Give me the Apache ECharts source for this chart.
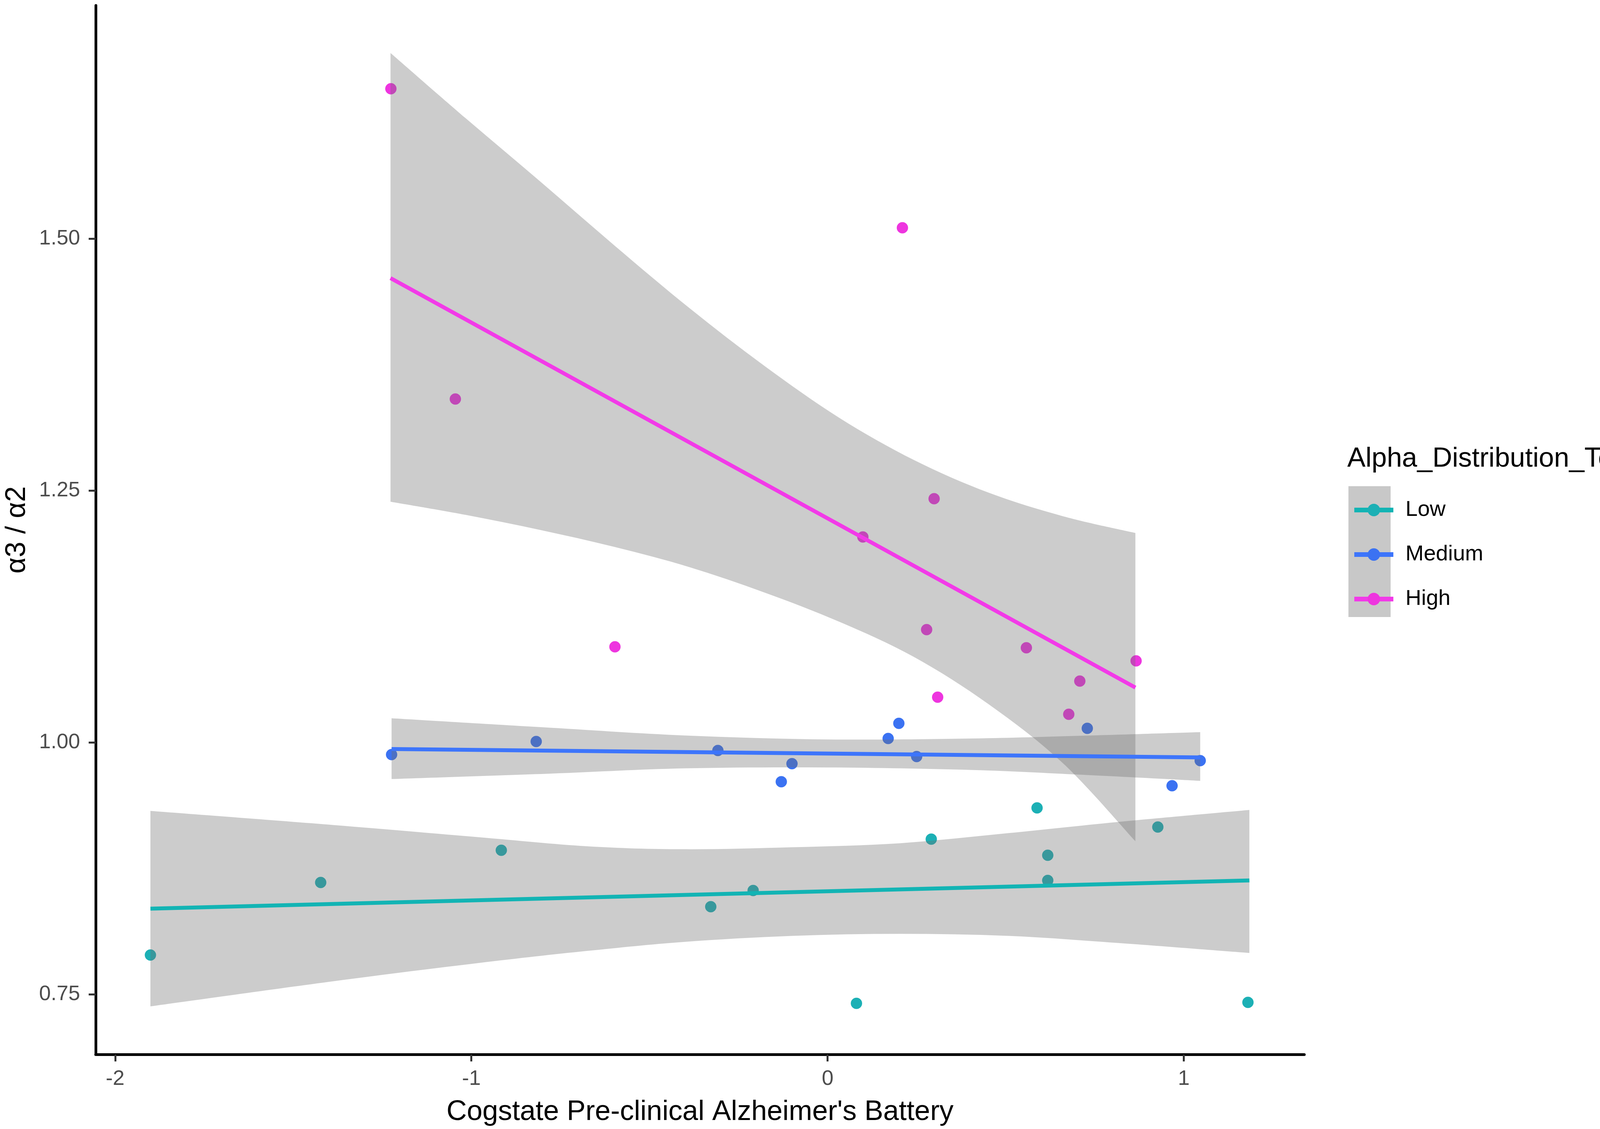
<!DOCTYPE html>
<html>
	<head>
		<meta charset="utf-8">
		<style>
			html,body{
				margin:0;
				height:100%;
				background:#fff;
			}
			#container{
				width:4317px;
				height:2891px;
			}
		</style>
	</head>
	<body>
		<div id="container"></div>
	<script src="https://cdn.jsdelivr.net/npm/echarts@6/dist/echarts.min.js"></script>
	<script>
        // tick labels
        var xTicks = [-2, -1, 0, 1];
        var yTicks = [0.75, 1.00, 1.25, 1.50];
        var groups = ['Low', 'Medium', 'High'];
        var colors = ['#1cb0b5', '#3b72f2', '#ee35df'];
        var lineColors = ['#12b4b4', '#3d75fb', '#f23ae8'];

        // points [cogstate, a3/a2]
        var lowPts = [[-1.901,0.789],[-1.423,0.861],[-0.916,0.893],[-0.328,0.837],[-0.209,0.853],[0.081,0.741],
            [0.291,0.904],[0.588,0.935],[0.618,0.888],[0.618,0.863],[0.927,0.916],[1.180,0.742]];
        var medPts = [[-1.224,0.988],[-0.818,1.001],[-0.308,0.992],[-0.130,0.961],[-0.100,0.979],[0.170,1.004],
            [0.200,1.019],[0.250,0.986],[0.729,1.014],[0.967,0.957],[1.046,0.982]];
        var highPts = [[-1.226,1.649],[-1.045,1.341],[-0.597,1.095],[0.099,1.204],[0.210,1.511],[0.299,1.242],
            [0.278,1.112],[0.309,1.045],[0.558,1.094],[0.708,1.061],[0.677,1.028],[0.866,1.081]];

        // fitted lines (end points)
        var lowFit = [[-1.901,0.835],[1.184,0.863]];
        var medFit = [[-1.224,0.9935],[1.046,0.9852]];
        var highFit = [[-1.227,1.461],[0.864,1.0545]];

        // confidence ribbons
        var lowBandX = [-1.901,-1.386,-0.980,-0.676,-0.404,-0.100,0.204,0.508,0.813,1.184];
        var lowBandHi = [0.932,0.918,0.906,0.897,0.894,0.896,0.900,0.910,0.921,0.933];
        var lowBandLo = [0.738,0.763,0.781,0.793,0.802,0.808,0.810,0.808,0.801,0.791];
        var medBandX = [-1.224,-0.778,-0.404,0.001,0.407,0.712,1.046];
        var medBandHi = [1.024,1.0146,1.007,1.003,1.004,1.0067,1.0103];
        var medBandLo = [0.9637,0.9691,0.9743,0.9752,0.9727,0.968,0.9619];
        var highBandX = [-1.227,-1.017,-0.807,-0.597,-0.387,-0.178,0.032,0.242,0.452,0.662,0.864];
        var highBandHi = [1.6845,1.620,1.557,1.493,1.431,1.374,1.3225,1.2805,1.248,1.2245,1.208];
        var highBandLo = [1.239,1.226,1.211,1.194,1.174,1.149,1.120,1.085,1.038,0.979,0.902];

        var font = 'Liberation Sans, Arial, sans-serif';

        // smooth curve through pixel points (catmull-rom as bezier segments)
        function curve(p){
            var d = '';
            for (var i = 0; i < p.length - 1; i++) {
                var p0 = p[i - 1] || p[i], p1 = p[i], p2 = p[i + 1], p3 = p[i + 2] || p2;
                var c1 = [p1[0] + (p2[0] - p0[0]) / 6, p1[1] + (p2[1] - p0[1]) / 6];
                var c2 = [p2[0] - (p3[0] - p1[0]) / 6, p2[1] - (p3[1] - p1[1]) / 6];
                d += ' C' + c1[0] + ',' + c1[1] + ' ' + c2[0] + ',' + c2[1] + ' ' + p2[0] + ',' + p2[1];
            }
            return d;
        }

        function bandSeries(name, xs, hi, lo){
            var rows = xs.map(function (x, i) { return [x, lo[i], hi[i]]; });
            return {
                name: name,
                type: 'custom',
                z: 3,
                silent: true,
                data: rows,
                encode: {x: 0, y: [1, 2]},
                renderItem: function (params, api) {
                    if (params.dataIndex !== 0) return;
                    var top = xs.map(function (x, i) { return api.coord([x, hi[i]]); });
                    var bot = xs.map(function (x, i) { return api.coord([x, lo[i]]); }).reverse();
                    var d = 'M' + top[0][0] + ',' + top[0][1] + curve(top)
                        + ' L' + bot[0][0] + ',' + bot[0][1] + curve(bot) + ' Z';
                    return {
                        type: 'path',
                        shape: {pathData: d},
                        style: {fill: 'rgba(110,110,110,0.35)', stroke: null}
                    };
                }
            };
        }

        function fitSeries(i, data){
            return {
                name: groups[i],
                type: 'line',
                z: 4,
                data: data,
                symbol: 'circle',
                symbolSize: 30,
                showSymbol: false,
                itemStyle: {color: colors[i]},
                lineStyle: {color: lineColors[i], width: 10},
                silent: true
            };
        }

        function pointSeries(i, data){
            return {
                name: groups[i],
                type: 'scatter',
                z: 2,
                data: data,
                symbol: 'circle',
                symbolSize: 29,
                itemStyle: {color: colors[i], opacity: 1}
            };
        }

        var myChart = echarts.init(document.getElementById('container'));
        var option = {
            backgroundColor: '#ffffff',
            animation: false,
            legend: {
                orient: 'vertical',
                left: 3456,
                top: 1273,
                itemWidth: 100,
                itemHeight: 40,
                itemGap: 58,
                data: groups,
                lineStyle: {width: 12},
                textStyle: {fontFamily: font, fontSize: 56, color: '#000', lineHeight: 40, padding: [0, 0, 0, 26]}
            },
            graphic: [{
                type: 'rect',
                x: 3452,
                y: 1245,
                z: -1,
                shape: {width: 108, height: 335},
                style: {fill: '#c8c8c8'}
            }, {
                type: 'text',
                x: 3449,
                y: 1176,
                style: {
                    text: 'Alpha_Distribution_Tertiles',
                    font: '70px ' + font,
                    fill: '#000',
                    verticalAlign: 'middle'
                }
            }],
            grid: {left: 245, right: 978, top: 14, bottom: 191},
            xAxis: {
                type: 'value',
                min: -2.0546,
                max: 1.3382,
                name: "Cogstate Pre-clinical Alzheimer's Battery",
                nameLocation: 'middle',
                nameGap: 112,
                nameTextStyle: {fontFamily: font, fontSize: 72, color: '#000'},
                splitLine: {show: false},
                axisLine: {onZero: false, lineStyle: {color: '#000', width: 7}},
                axisTick: {customValues: xTicks, length: 18, lineStyle: {color: '#333', width: 5}},
                axisLabel: {customValues: xTicks, margin: 36, fontFamily: font, fontSize: 54, color: '#4d4d4d'}
            },
            yAxis: {
                type: 'value',
                min: 0.6903,
                max: 1.7317,
                name: 'α3 / α2',
                nameLocation: 'middle',
                nameRotate: 90,
                nameGap: 165,
                nameTextStyle: {fontFamily: font, fontSize: 72, color: '#000'},
                splitLine: {show: false},
                axisLine: {show: true, onZero: false, lineStyle: {color: '#000', width: 7}},
                axisTick: {show: true, customValues: yTicks, length: 18, lineStyle: {color: '#333', width: 5}},
                axisLabel: {
                    customValues: yTicks, margin: 40, fontFamily: font, fontSize: 54, color: '#4d4d4d',
                    formatter: function (v) { return v.toFixed(2); }
                }
            },
            series: [
                fitSeries(0, lowFit),
                fitSeries(1, medFit),
                fitSeries(2, highFit),
                pointSeries(0, lowPts),
                pointSeries(1, medPts),
                pointSeries(2, highPts),
                bandSeries('band-low', lowBandX, lowBandHi, lowBandLo),
                bandSeries('band-medium', medBandX, medBandHi, medBandLo),
                bandSeries('band-high', highBandX, highBandHi, highBandLo)
            ]
        };
        myChart.setOption(option, true);
	</script>
	</body>
</html>
